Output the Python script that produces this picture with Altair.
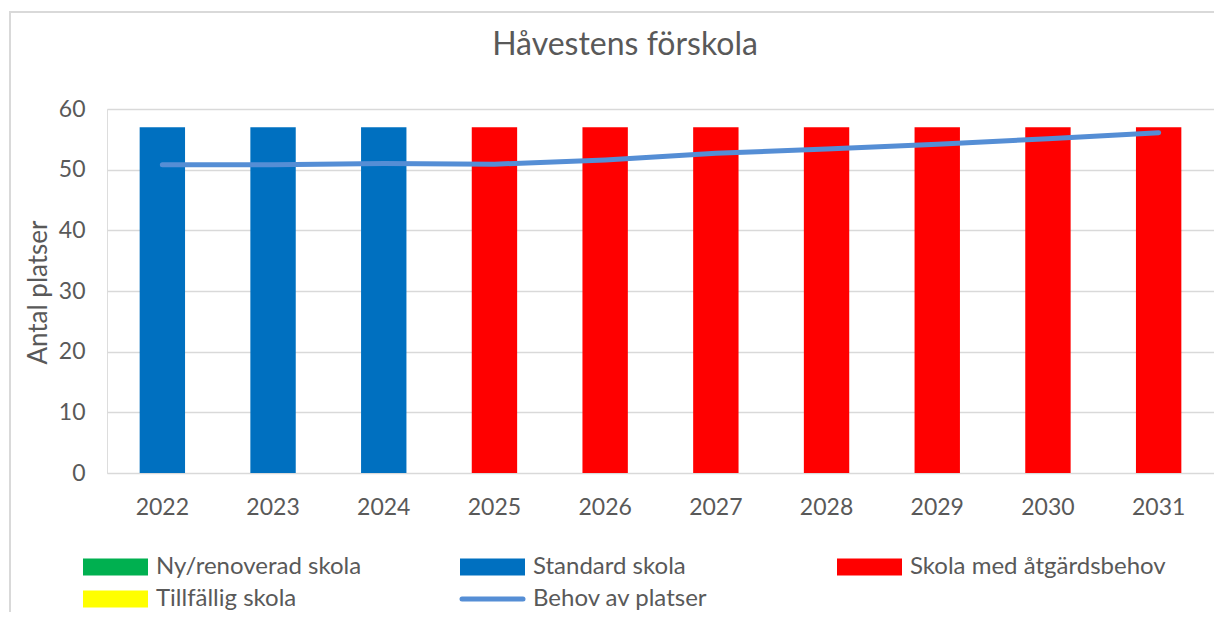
import altair as alt
import pandas as pd

# ---- data ----
years = ["2022", "2023", "2024", "2025", "2026", "2027", "2028", "2029", "2030", "2031"]
capacity = [57, 57, 57, 57, 57, 57, 57, 57, 57, 57]
school_type = ["Standard skola"] * 3 + ["Skola med åtgärdsbehov"] * 7
demand = [50.8, 50.8, 51.0, 50.9, 51.6, 52.7, 53.4, 54.2, 55.1, 56.1]

chart_title = "Håvestens förskola"
type_names = ["Ny/renoverad skola", "Standard skola", "Skola med åtgärdsbehov", "Tillfällig skola"]
type_colors = ["#00B050", "#0070C0", "#FF0000", "#FFFF00"]
line_name = "Behov av platser"
line_color = "#558ED5"

FONT = "Lato"
TXT = "#595959"
GRID = "#D9D9D9"

W, H = 1107, 364

df = pd.DataFrame({"year": years, "capacity": capacity, "type": school_type, "demand": demand})

x_enc = alt.X("year:N", sort=years, title=None,
              scale=alt.Scale(paddingInner=0.59, paddingOuter=0.295),
              axis=alt.Axis(labelAngle=0, labelFont=FONT, labelFontSize=23, labelColor=TXT,
                            labelPadding=23, ticks=False, domain=False, grid=False))

bars = alt.Chart(df).mark_bar().encode(
    x=x_enc,
    y=alt.Y("capacity:Q", scale=alt.Scale(domain=[0, 60]),
            axis=alt.Axis(values=[0, 10, 20, 30, 40, 50, 60], title="Antal platser",
                          titleFont=FONT, titleFontSize=26, titleFontWeight="normal", titleColor=TXT,
                          titleX=-69, titleY=H / 2 + 1, titleAngle=-90, titleAlign="center",
                          titleBaseline="middle",
                          labelFont=FONT, labelFontSize=23, labelColor=TXT, labelPadding=22,
                          ticks=False, domain=False, grid=True, gridColor=GRID, gridWidth=1.5)),
    color=alt.Color("type:N", scale=alt.Scale(domain=type_names, range=type_colors), legend=None),
)

line = alt.Chart(df).mark_line(color=line_color, strokeWidth=5, strokeCap="round",
                               strokeJoin="round").encode(
    x=alt.X("year:N", sort=years),
    y=alt.Y("demand:Q"),
)

layers = [bars, line]

# ---- frame (Excel chart border) ----
frame_df = pd.DataFrame({"k": [0]})
frame = alt.Chart(frame_df).mark_rect(filled=False, stroke=GRID, strokeWidth=2).encode(
    x=alt.value(-97), x2=alt.value(1200), y=alt.value(-97), y2=alt.value(600)
)
layers.append(frame)

# ---- title as text ----
title_df = pd.DataFrame({"t": [chart_title]})
title = alt.Chart(title_df).mark_text(align="center", baseline="middle", font=FONT, fontSize=32,
                                      color=TXT).encode(
    x=alt.value(518), y=alt.value(-64), text="t:N")
layers.append(title)

# ---- custom legend (layout constants) ----
col_x = [-24, 353, 730]     # swatch left edge per column
row_y = [458, 490]          # row centers
sw_w, sw_h = 65, 17
text_gap = 8

legend_items = [
    (type_names[0], type_colors[0], 0, 0, "rect"),
    (type_names[1], type_colors[1], 1, 0, "rect"),
    (type_names[2], type_colors[2], 2, 0, "rect"),
    (type_names[3], type_colors[3], 0, 1, "rect"),
    (line_name, line_color, 1, 1, "line"),
]

for label, color, c, r, kind in legend_items:
    one = pd.DataFrame({"label": [label]})
    x0 = col_x[c]
    yc = row_y[r]
    if kind == "rect":
        sw = alt.Chart(one).mark_rect(color=color).encode(
            x=alt.value(x0), x2=alt.value(x0 + sw_w),
            y=alt.value(yc - sw_h / 2), y2=alt.value(yc + sw_h / 2))
    else:
        sw = alt.Chart(one).mark_rule(color=color, strokeWidth=5, strokeCap="round").encode(
            x=alt.value(x0 + 2), x2=alt.value(x0 + sw_w - 2),
            y=alt.value(yc))
    tx = alt.Chart(one).mark_text(align="left", baseline="middle", font=FONT, fontSize=24,
                                  color=TXT).encode(
        x=alt.value(x0 + sw_w + text_gap), y=alt.value(yc), text="label:N")
    layers += [sw, tx]

chart = alt.layer(*layers).properties(
    width=W, height=H,
    autosize=alt.AutoSizeParams(type="none"),
    padding={"left": 99, "top": 101, "right": 0, "bottom": 139},
).configure_view(stroke=None).configure(background="white")

chart.save("out.html", embed_options={"renderer": "svg", "actions": False})
